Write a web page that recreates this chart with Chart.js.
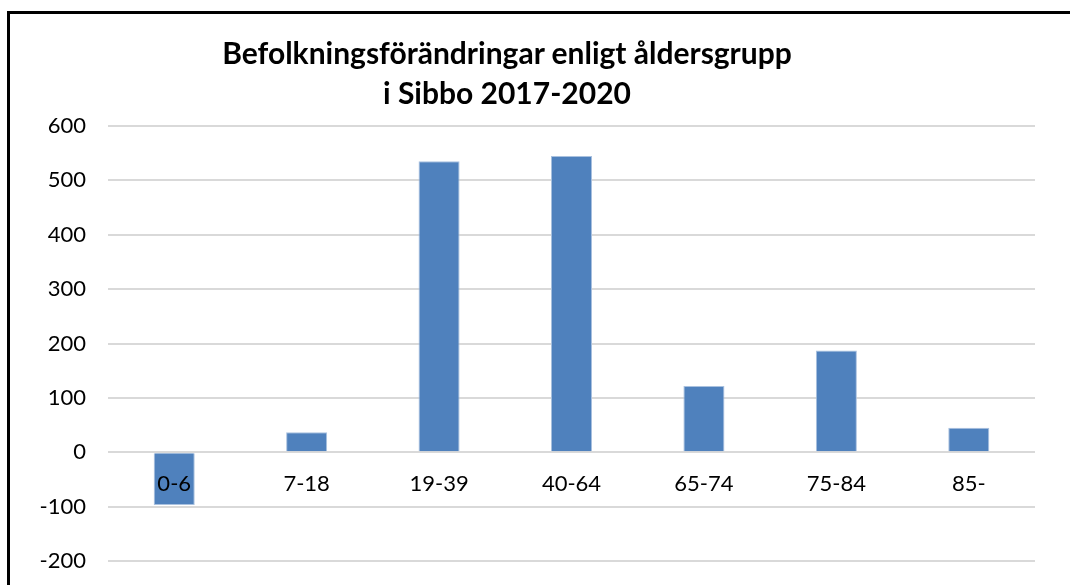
<!DOCTYPE html>
<html lang="sv">
<head>
<meta charset="utf-8">
<title>Befolkningsförändringar enligt åldersgrupp i Sibbo 2017-2020</title>
<script src="https://cdn.jsdelivr.net/npm/chart.js@4"></script>
<style>
  html, body { margin: 0; padding: 0; background: #fff; }
  body { width: 1070px; height: 585px; overflow: hidden; position: relative; }
  /* ram runt diagrammet (höger och nederkant ligger utanför bilden) */
  .ram { position: absolute; left: 7px; top: 11px; width: 1100px; height: 600px;
         border-left: 3px solid #000; border-top: 3px solid #000; box-sizing: border-box; }
  .titel { position: absolute; left: 157px; width: 700px; top: 32px; text-align: center;
           font: bold 30px Lato, "Open Sans", sans-serif; color: #000; line-height: 40px; }
  #wrap { position: absolute; left: 0; top: 0; width: 1070px; height: 585px; }
</style>
</head>
<body>
<div class="ram"></div>
<div id="wrap"><canvas id="grafik"></canvas></div>
<div class="titel">Befolkningsförändringar enligt åldersgrupp<br>i Sibbo 2017-2020</div>
<script>
  /* --- Data ---------------------------------------------------------------- */
  const aldersgrupper = ['0-6', '7-18', '19-39', '40-64', '65-74', '75-84', '85-'];
  const forandring = [-97, 37, 535, 545, 122, 187, 45];
  const yTicks = [-200, -100, 0, 100, 200, 300, 400, 500, 600];

  const FONT = 'Lato, "Open Sans", sans-serif';

  new Chart(document.getElementById('grafik'), {
    type: 'bar',
    data: {
      labels: aldersgrupper,
      datasets: [{
        data: forandring,
        backgroundColor: '#4f81bd',
        borderColor: '#a9c1df',
        borderWidth: 1,
        categoryPercentage: 1,
        barPercentage: 0.31,
      }],
    },
    options: {
      responsive: true, maintainAspectRatio: false, animation: false,
      layout: { padding: { top: 126, right: 35, bottom: 24, left: 0 } },
      plugins: { legend: { display: false }, tooltip: { enabled: false } },
      scales: {
        x: {
          position: { y: 0 },   // kategorierna ligger vid nollinjen, som i Excel
          afterFit: (s) => { s.height = 0; },   // tar ingen plats i layouten
          grid: { display: false },
          border: { display: false },
          ticks: { z: 1, color: '#000', font: { family: FONT, size: 22 }, padding: 10, maxRotation: 0 },
        },
        y: {
          min: -200, max: 600,
          afterBuildTicks: (s) => { s.ticks = yTicks.map(v => ({ value: v })); },
          afterFit: (s) => { s.width = 108; s.paddingTop = 0; s.paddingBottom = 0; },
          grid: { color: '#d9d9d9', lineWidth: 2, drawTicks: false },
          border: { display: false },
          ticks: { color: '#000', font: { family: FONT, size: 22 }, padding: 22 },
        },
      },
    },
  });
</script>
</body>
</html>
